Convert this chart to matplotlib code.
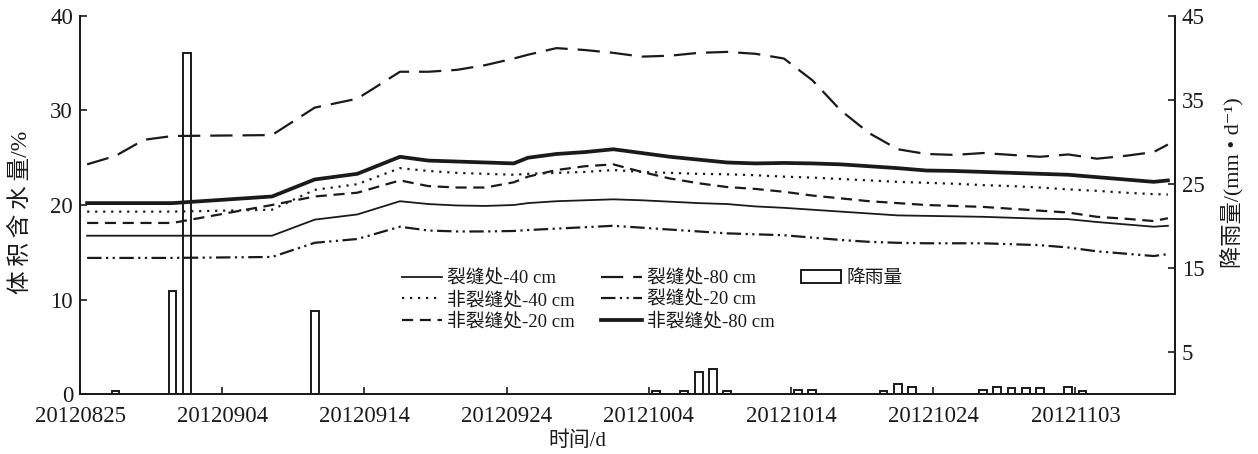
import numpy as np
import matplotlib
matplotlib.use('Agg')
import matplotlib.pyplot as plt
from matplotlib.lines import Line2D
from matplotlib.patches import Patch

plt.rcParams['font.family'] = ['Liberation Serif', 'Noto Sans CJK SC', 'DejaVu Sans']

# ---------------- data ----------------
start_date = '2012-08-25'

measure_dates = ['2012-08-25', '2012-08-27', '2012-08-29', '2012-08-31', '2012-09-07',
                 '2012-09-10', '2012-09-13', '2012-09-16', '2012-09-18', '2012-09-20',
                 '2012-09-22', '2012-09-24', '2012-09-25', '2012-09-27', '2012-09-29',
                 '2012-10-01', '2012-10-03', '2012-10-05', '2012-10-07', '2012-10-09',
                 '2012-10-11', '2012-10-13', '2012-10-15', '2012-10-17', '2012-10-19',
                 '2012-10-21', '2012-10-23', '2012-10-25', '2012-10-27', '2012-10-29',
                 '2012-10-31', '2012-11-02', '2012-11-04', '2012-11-06', '2012-11-08',
                 '2012-11-09']

crack_40 = [16.75, 16.75, 16.75, 16.75, 16.75, 18.45, 19.0, 20.4, 20.1, 19.95,
            19.9, 20.0, 20.2, 20.4, 20.5, 20.6, 20.5, 20.35, 20.2, 20.1,
            19.85, 19.7, 19.5, 19.3, 19.1, 18.9, 18.85, 18.8, 18.75, 18.65,
            18.55, 18.5, 18.2, 17.95, 17.7, 17.8]
noncrack_40 = [19.3, 19.3, 19.3, 19.3, 19.5, 21.6, 22.2, 23.9, 23.6, 23.4,
               23.3, 23.2, 23.3, 23.4, 23.5, 23.7, 23.5, 23.4, 23.3, 23.25,
               23.15, 23.0, 22.9, 22.75, 22.6, 22.45, 22.35, 22.25, 22.1, 22.0,
               21.85, 21.65, 21.5, 21.3, 21.15, 21.1]
noncrack_20 = [18.1, 18.1, 18.1, 18.1, 20.0, 20.9, 21.3, 22.6, 22.0, 21.85,
               21.85, 22.4, 23.0, 23.7, 24.1, 24.3, 23.5, 22.8, 22.3, 21.9,
               21.7, 21.4, 21.0, 20.7, 20.4, 20.2, 20.0, 19.9, 19.8, 19.6,
               19.4, 19.2, 18.75, 18.55, 18.3, 18.6]
crack_80 = [24.3, 25.2, 26.9, 27.3, 27.4, 30.3, 31.25, 34.1, 34.1, 34.3,
            34.8, 35.5, 35.9, 36.6, 36.4, 36.1, 35.7, 35.8, 36.1, 36.2,
            36.0, 35.5, 33.2, 30.0, 27.6, 25.9, 25.4, 25.3, 25.5, 25.3,
            25.1, 25.35, 24.9, 25.2, 25.6, 26.4]
crack_20 = [14.4, 14.4, 14.4, 14.4, 14.5, 16.0, 16.4, 17.7, 17.3, 17.2,
            17.2, 17.25, 17.35, 17.5, 17.65, 17.8, 17.6, 17.4, 17.2, 17.0,
            16.9, 16.8, 16.55, 16.3, 16.1, 16.0, 15.95, 15.95, 15.95, 15.85,
            15.75, 15.5, 15.1, 14.85, 14.6, 14.8]
noncrack_80 = [20.2, 20.2, 20.2, 20.2, 20.9, 22.7, 23.3, 25.1, 24.7, 24.6,
               24.5, 24.4, 25.0, 25.4, 25.6, 25.9, 25.5, 25.1, 24.8, 24.5,
               24.4, 24.45, 24.4, 24.3, 24.1, 23.9, 23.65, 23.6, 23.5, 23.4,
               23.3, 23.2, 22.95, 22.7, 22.45, 22.6]

rain_dates = ['2012-08-27', '2012-08-31', '2012-09-01', '2012-09-10', '2012-10-04',
              '2012-10-06', '2012-10-07', '2012-10-08', '2012-10-09', '2012-10-14',
              '2012-10-15', '2012-10-20', '2012-10-21', '2012-10-22', '2012-10-27',
              '2012-10-28', '2012-10-29', '2012-10-30', '2012-10-31', '2012-11-02',
              '2012-11-03']
rain_mm = [0.3, 12.3, 40.6, 9.9, 0.3, 0.3, 2.6, 3.0, 0.3, 0.5,
           0.5, 0.3, 1.2, 0.8, 0.45, 0.85, 0.7, 0.7, 0.7, 0.85,
           0.3]

tick_dates = ['2012-08-25', '2012-09-04', '2012-09-14', '2012-09-24',
              '2012-10-04', '2012-10-14', '2012-10-24', '2012-11-03']
tick_labels = ['20120825', '20120904', '20120914', '20120924',
               '20121004', '20121014', '20121024', '20121103']

series_labels = ['裂缝处-40 cm', '非裂缝处-40 cm', '非裂缝处-20 cm',
                 '裂缝处-80 cm', '裂缝处-20 cm', '非裂缝处-80 cm']
rain_label = '降雨量'
left_label = '体\u2009积\u2009含\u2009水\u2009量/%'
right_label = '降雨量/(mm • d⁻¹)'
x_label = '时间/d'


def day_offset(dates):
    d = np.array(dates, dtype='datetime64[D]') - np.datetime64(start_date)
    return d.astype(float)


# ---------------- figure ----------------
W, H = 1258, 454
fig = plt.figure(figsize=(W / 100, H / 100), dpi=100)
L, R, T, B = 80, 1175, 16, 394
ax1 = fig.add_axes([L / W, 1 - B / H, (R - L) / W, (B - T) / H])
ax2 = ax1.twinx()
ax1.set_zorder(3)
ax1.patch.set_visible(False)

x = day_offset(measure_dates) + 0.5
xr = day_offset(rain_dates) + 0.5

ink = '#1a1a1a'
styles = [
    dict(lw=1.3, ls='-'),
    dict(lw=1.6, ls=(0, (1, 2.6))),
    dict(lw=1.6, ls=(0, (5, 3))),
    dict(lw=1.6, ls=(0, (10, 4.5))),
    dict(lw=1.6, ls=(0, (6.5, 2, 1, 2, 1, 2))),
    dict(lw=2.7, ls='-'),
]
series = [crack_40, noncrack_40, noncrack_20, crack_80, crack_20, noncrack_80]
handles = []
for vals, st, lab in zip(series, styles, series_labels):
    h, = ax1.plot(x, vals, color=ink, lw=st['lw'], linestyle=st['ls'],
                  label=lab, solid_joinstyle='round')
    handles.append(h)

ax2.bar(xr, rain_mm, width=0.55, facecolor='white', edgecolor=ink,
        linewidth=1.4, zorder=2)

ax1.set_xlim(0, 77)
ax1.set_ylim(0, 40)
ax2.set_ylim(0, 45)
ax1.set_yticks([0, 10, 20, 30, 40])
ax2.set_yticks([5, 15, 25, 35, 45])
ax1.set_xticks(day_offset(tick_dates))
ax1.set_xticklabels(tick_labels)

for ax in (ax1, ax2):
    ax.spines['top'].set_visible(False)
    for s in ('left', 'right', 'bottom'):
        ax.spines[s].set_linewidth(1.3)
        ax.spines[s].set_color(ink)
    ax.tick_params(direction='in', length=5, width=1.2, colors=ink,
                   labelsize=16.5, labelcolor=ink)
ax1.tick_params(axis='x', pad=9)
ax1.tick_params(axis='y', pad=5)
ax2.tick_params(axis='y', pad=5)

fig.text(577 / W, 1 - 441 / H, x_label, ha='center', va='center', fontsize=15,
         color=ink)
fig.text(21 / W, 1 - 212 / H, left_label, ha='center', va='center', rotation=90,
         fontsize=17, color=ink)
fig.text(1233 / W, 1 - 183 / H, right_label, ha='center', va='center',
         rotation=90, fontsize=16, color=ink)

blank = Line2D([], [], linestyle='none')
rain_handle = Patch(facecolor='white', edgecolor=ink, linewidth=1.4)
leg_handles = handles + [rain_handle, blank, blank]
leg_labels = series_labels + [rain_label, '', '']
leg = ax1.legend(leg_handles, leg_labels, ncol=3, frameon=False,
                 loc='upper left', bbox_to_anchor=(402 / W, 1 - 270 / H),
                 bbox_transform=fig.transFigure, fontsize=13.5,
                 handlelength=2.15, handletextpad=0.27, columnspacing=1.4,
                 labelspacing=0.2, borderpad=0, borderaxespad=0)
for t in leg.get_texts():
    t.set_color(ink)

fig.savefig('out.png', dpi=100)
